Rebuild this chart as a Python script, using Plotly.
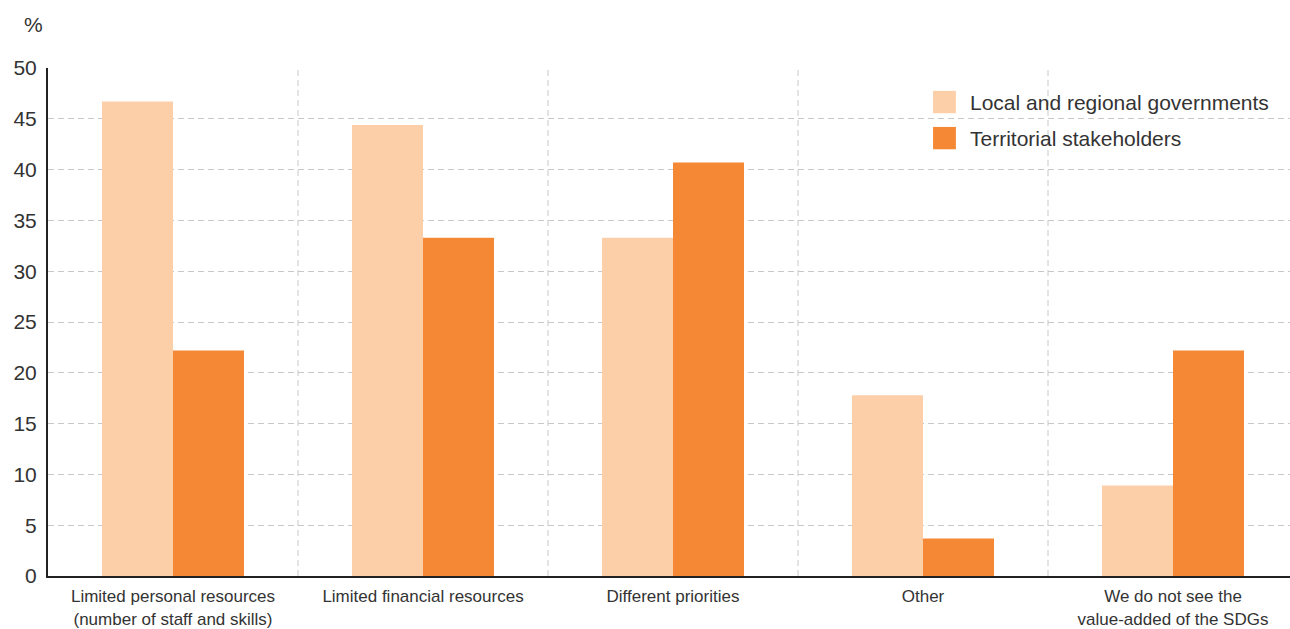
import plotly.graph_objects as go

categories = [
    "Limited personal resources<br>(number of staff and skills)",
    "Limited financial resources",
    "Different priorities",
    "Other",
    "We do not see the<br>value-added of the SDGs",
]
local_regional = [46.7, 44.4, 33.3, 17.8, 8.9]
territorial = [22.2, 33.3, 40.7, 3.7, 22.2]
series_names = ["Local and regional governments", "Territorial stakeholders"]
y_ticks = [0, 5, 10, 15, 20, 25, 30, 35, 40, 45, 50]

LIGHT = "#FDCFA8"
DARK = "#F58835"
TEXT = "#333333"
GRID = "#C8C8C8"
DASH = "6px,4px"
FONT = "Liberation Sans Narrow, Arial Narrow, sans-serif"

fig = go.Figure()
fig.add_trace(go.Bar(x=list(range(len(categories))), y=local_regional,
                     name=series_names[0], marker_color=LIGHT, marker_line_width=0))
fig.add_trace(go.Bar(x=list(range(len(categories))), y=territorial,
                     name=series_names[1], marker_color=DARK, marker_line_width=0))

shapes = []
# dashed separators between categories
for i in range(len(categories) - 1):
    shapes.append(dict(type="line", xref="x", yref="y", x0=i + 0.5, x1=i + 0.5,
                       y0=0, y1=50, layer="below",
                       line=dict(color=GRID, width=1, dash=DASH)))

# legend swatches drawn as squares with text beside them
legend_items = [(series_names[0], LIGHT, 0.933), (series_names[1], DARK, 0.862)]
annotations = []
for name, color, yc in legend_items:
    shapes.append(dict(type="rect", xref="paper", yref="paper",
                       x0=0.7126, x1=0.731, y0=yc - 0.022, y1=yc + 0.022,
                       fillcolor=color, line_width=0))
    annotations.append(dict(text=name, xref="paper", yref="paper", x=0.7405, y=yc,
                            xanchor="left", yanchor="middle", showarrow=False,
                            font=dict(size=21, color=TEXT, family=FONT)))

annotations.append(dict(text="%", xref="paper", yref="paper", x=-0.012, y=1.085,
                        xanchor="center", yanchor="middle", showarrow=False,
                        font=dict(size=21, color=TEXT, family=FONT)))

fig.update_layout(
    width=1290, height=629,
    margin=dict(l=48, r=0, t=68, b=53),
    paper_bgcolor="white", plot_bgcolor="white",
    barmode="group", bargap=0.432, bargroupgap=0,
    showlegend=False,
    font=dict(family=FONT, color=TEXT),
    shapes=shapes, annotations=annotations,
    xaxis=dict(
        range=[-0.5, 4.468], tickmode="array",
        tickvals=list(range(len(categories))), ticktext=categories,
        tickfont=dict(size=17, color=TEXT), showgrid=False,
        showline=True, linecolor="#222222", linewidth=2, ticks="",
        zeroline=False, ticklabelstandoff=4,
    ),
    yaxis=dict(
        range=[0, 50], tickvals=y_ticks, tickfont=dict(size=21, color=TEXT),
        showgrid=True, gridcolor=GRID, griddash=DASH, gridwidth=1,
        showline=True, linecolor="#222222", linewidth=2, ticks="",
        zeroline=False, ticklabelstandoff=5,
    ),
)

fig.write_html("out.html")
